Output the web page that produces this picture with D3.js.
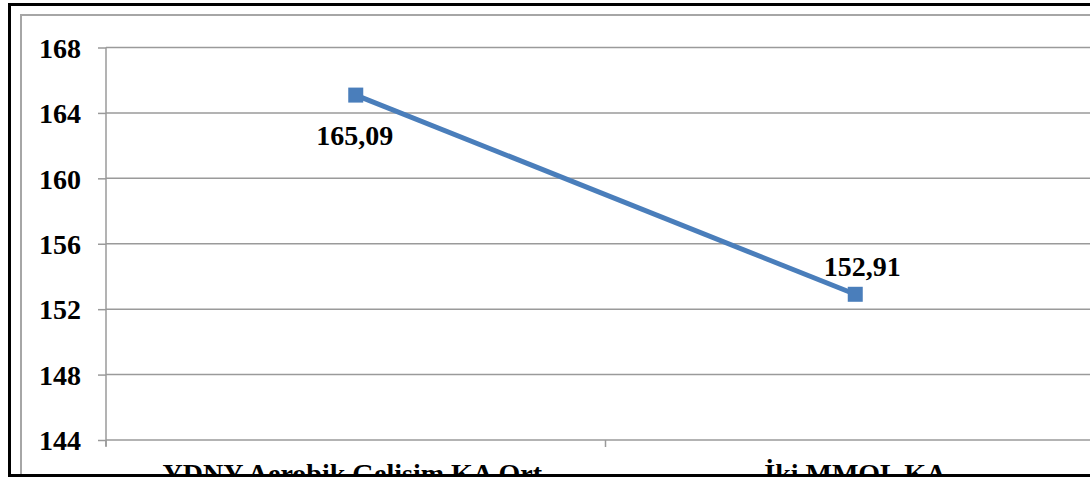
<!DOCTYPE html>
<html>
<head>
<meta charset="utf-8">
<script src="https://cdn.jsdelivr.net/npm/d3@7"></script>
<style>
body { margin: 0; background: #fff; }
svg { display: block; }
</style>
</head>
<body>
<svg></svg>
<script>
var categories = ["YDNY Aerobik Gelişim KA Ort.", "İki MMOL KA"];
var values = [165.09, 152.91];
var valueLabels = ["165,09", "152,91"];
var yTicks = [144, 148, 152, 156, 160, 164, 168];

var screen = {width: 1090, height: 479};
var svg = d3.select("svg")
    .attr("width", screen.width)
    .attr("height", screen.height);

var font = "Liberation Serif";
var blue = "#4a7ebb";

var yScale = d3.scaleLinear()
    .domain([144, 168])
    .range([440, 47.5]);

var xScale = d3.scaleBand()
    .domain(categories)
    .range([106, 1105])
    .padding(0);

// chart area border
svg.append("rect")
    .attr("x", 21).attr("y", 15)
    .attr("width", 1100).attr("height", 500)
    .attr("fill", "none")
    .attr("stroke", "#a6a6a6")
    .attr("stroke-width", 2);

// gridlines
svg.append("g")
    .selectAll("line")
    .data(yTicks)
    .enter()
    .append("line")
    .attr("x1", 106).attr("x2", screen.width)
    .attr("y1", function(d){ return yScale(d); })
    .attr("y2", function(d){ return yScale(d); })
    .attr("stroke", "#9a9a9a")
    .attr("stroke-width", 1.5);

// y axis
var yAxis = svg.append("g")
    .attr("transform", "translate(106,0)")
    .call(d3.axisLeft(yScale).tickValues(yTicks).tickSize(8).tickPadding(17));
yAxis.attr("font-family", font).attr("font-size", 28).attr("font-weight", "bold");
yAxis.selectAll("line, path").attr("stroke", "#9a9a9a").attr("stroke-width", 1.5);
yAxis.select(".domain").attr("d", "M0,47.5V446");
yAxis.selectAll("text")
    .attr("fill", "#000")
    .attr("dy", "0.35em");

// x axis ticks at category boundaries
var bounds = [106, 106 + xScale.bandwidth(), 106 + 2 * xScale.bandwidth()];
svg.append("g")
    .selectAll("line")
    .data(bounds)
    .enter()
    .append("line")
    .attr("x1", function(d){ return d; })
    .attr("x2", function(d){ return d; })
    .attr("y1", 440).attr("y2", 447)
    .attr("stroke", "#9a9a9a")
    .attr("stroke-width", 1.5);

// category labels (cut by the frame, as in the original)
svg.append("g")
    .selectAll("text")
    .data(categories)
    .enter()
    .append("text")
    .attr("x", function(d){ return xScale(d) + xScale.bandwidth() / 2; })
    .attr("y", 483)
    .attr("text-anchor", "middle")
    .attr("font-family", font)
    .attr("font-weight", "bold")
    .attr("font-size", 28)
    .text(function(d){ return d; });

// line
var line = d3.line()
    .x(function(d, i){ return xScale(categories[i]) + xScale.bandwidth() / 2; })
    .y(function(d){ return yScale(d); });

svg.append("path")
    .datum(values)
    .attr("d", line)
    .attr("fill", "none")
    .attr("stroke", blue)
    .attr("stroke-width", 5);

svg.append("g")
    .selectAll("rect")
    .data(values)
    .enter()
    .append("rect")
    .attr("x", function(d, i){ return xScale(categories[i]) + xScale.bandwidth() / 2 - 7.5; })
    .attr("y", function(d){ return yScale(d) - 7.5; })
    .attr("width", 15).attr("height", 15)
    .attr("fill", blue);

// value labels: first below-left, second above
var labelOffsets = [{dx: -1, dy: 50}, {dx: 7, dy: -18}];
svg.append("g")
    .selectAll("text")
    .data(values)
    .enter()
    .append("text")
    .attr("x", function(d, i){ return xScale(categories[i]) + xScale.bandwidth() / 2 + labelOffsets[i].dx; })
    .attr("y", function(d, i){ return yScale(d) + labelOffsets[i].dy; })
    .attr("text-anchor", "middle")
    .attr("font-family", font)
    .attr("font-weight", "bold")
    .attr("font-size", 28)
    .text(function(d, i){ return valueLabels[i]; });

// outer frame, cropped at bottom and right
svg.append("rect")
    .attr("x", 0).attr("y", 477)
    .attr("width", screen.width).attr("height", 3)
    .attr("fill", "#fff");
svg.append("rect")
    .attr("x", 9.5).attr("y", 4.5)
    .attr("width", 1100).attr("height", 471)
    .attr("fill", "none")
    .attr("stroke", "#000")
    .attr("stroke-width", 3);
</script>
</body>
</html>
